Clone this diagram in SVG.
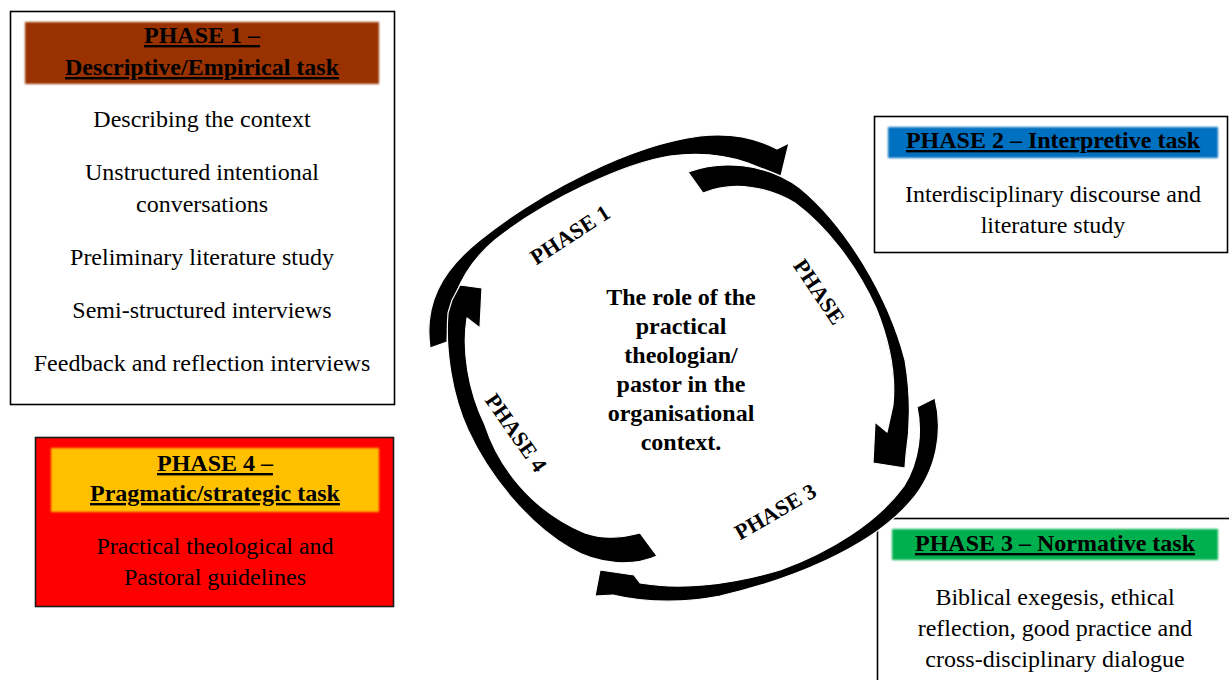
<svg xmlns="http://www.w3.org/2000/svg" width="1229" height="680" viewBox="0 0 1229 680">
  <defs>
    <filter id="soft" x="-5%" y="-20%" width="110%" height="140%">
      <feGaussianBlur stdDeviation="1.1"/>
    </filter>
    <style>
      .box { fill: #ffffff; stroke: #000000; stroke-width: 1.6; }
      .hdr { filter: url(#soft); }
      .t { font-family: "Liberation Serif", "Times New Roman", serif; font-size: 24px; fill: #000000; text-anchor: middle; }
      .b { font-weight: bold; }
      .u { text-decoration: underline; }
      .arc { fill: #000000; stroke: #ffffff; stroke-width: 1.2; stroke-linejoin: round; }
      .lbl { font-family: "Liberation Serif", "Times New Roman", serif; font-size: 22px; font-weight: bold; fill: #000000; text-anchor: middle; }
    </style>
  </defs>

  <rect width="1229" height="680" fill="#ffffff"/>

  <!-- Phase 1 box -->
  <g id="phase1">
    <rect class="box" x="10.5" y="11.5" width="384" height="393"/>
    <rect class="hdr" x="25" y="22" width="354" height="62" fill="#993300"/>
    <text class="t b u" x="202" y="43">PHASE 1 –</text>
    <text class="t b u" x="202" y="75">Descriptive/Empirical task</text>
    <text class="t" x="202" y="127">Describing the context</text>
    <text class="t" x="202" y="180">Unstructured intentional</text>
    <text class="t" x="202" y="212">conversations</text>
    <text class="t" x="202" y="265">Preliminary literature study</text>
    <text class="t" x="202" y="318">Semi-structured interviews</text>
    <text class="t" x="202" y="371">Feedback and reflection interviews</text>
  </g>

  <!-- Phase 4 box -->
  <g id="phase4">
    <rect x="35.5" y="437.5" width="358" height="169" fill="#ff0000" stroke="#1a1a1a" stroke-width="1.6"/>
    <rect class="hdr" x="51" y="448" width="328" height="64" fill="#ffc000"/>
    <text class="t b u" x="215" y="471">PHASE 4 –</text>
    <text class="t b u" x="215" y="501">Pragmatic/strategic task</text>
    <text class="t" x="215" y="554">Practical theological and</text>
    <text class="t" x="215" y="585">Pastoral guidelines</text>
  </g>

  <!-- Phase 2 box -->
  <g id="phase2">
    <rect class="box" x="874.5" y="116.5" width="353" height="136"/>
    <rect class="hdr" x="888" y="127" width="330" height="31" fill="#0070c0"/>
    <text class="t b u" x="1053" y="148">PHASE 2 – Interpretive task</text>
    <text class="t" x="1053" y="202">Interdisciplinary discourse and</text>
    <text class="t" x="1053" y="233">literature study</text>
  </g>

  <!-- Phase 3 box -->
  <g id="phase3">
    <rect class="box" x="877.5" y="518.5" width="360" height="180"/>
    <rect class="hdr" x="892" y="529" width="326" height="31" fill="#00b050"/>
    <text class="t b u" x="1055" y="551">PHASE 3 – Normative task</text>
    <text class="t" x="1055" y="605">Biblical exegesis, ethical</text>
    <text class="t" x="1055" y="636">reflection, good practice and</text>
    <text class="t" x="1055" y="667">cross-disciplinary dialogue</text>
  </g>

  <!-- Centre label -->
  <g id="centre">
    <text class="t b" x="681" y="305">The role of the</text>
    <text class="t b" x="681" y="334">practical</text>
    <text class="t b" x="681" y="363">theologian/</text>
    <text class="t b" x="681" y="392">pastor in the</text>
    <text class="t b" x="681" y="421">organisational</text>
    <text class="t b" x="681" y="450">context.</text>
  </g>

  <!-- Curved cycle arrows -->
  <g id="connectors">
    <path class="arc" d="M430,348 C424,305 440,272 480,240 C540,192 630,145 700,136 C735,132 760,140 777,149 L789,143 L781,176 L748,163 C725,155 700,152 670,156 C625,163 545,200 495,240 C465,265 448,300 447,342 Z"/>
    <path class="arc" d="M688,172 C720,160 765,162 800,188 C845,225 888,295 905,360 C911,395 910,430 906,455 L905,468 L873,463 L875,422 L887,432 L893,405 C896,375 889,340 876,308 C856,264 826,226 795,203 C770,188 735,180 703,193 Z"/>
    <path class="arc" d="M935,398 C943,430 938,470 910,502 C870,548 790,580 720,596 C690,602 650,604 613,595 L595,596 L600,570 L634,575 L640,583 C680,590 730,585 780,570 C830,552 878,522 904,486 C920,460 922,430 917,407 Z"/>
    <path class="arc" d="M657,556 C635,566 600,566 570,548 C530,525 490,478 468,430 C452,395 445,350 448,313 L452,300 L460,285 L482,288 L480,328 L467,318 C462,350 468,390 485,425 C498,465 530,510 585,533 C605,540 625,537 640,533 Z"/>
  </g>

  <!-- Arc labels -->
  <g id="arc-labels">
    <text class="lbl" transform="translate(574,241) rotate(-33)">PHASE 1</text>
    <text class="lbl" transform="translate(813,296) rotate(56)">PHASE</text>
    <text class="lbl" transform="translate(779,518) rotate(-30)">PHASE 3</text>
    <text class="lbl" transform="translate(510,437) rotate(55)">PHASE 4</text>
  </g>
</svg>
